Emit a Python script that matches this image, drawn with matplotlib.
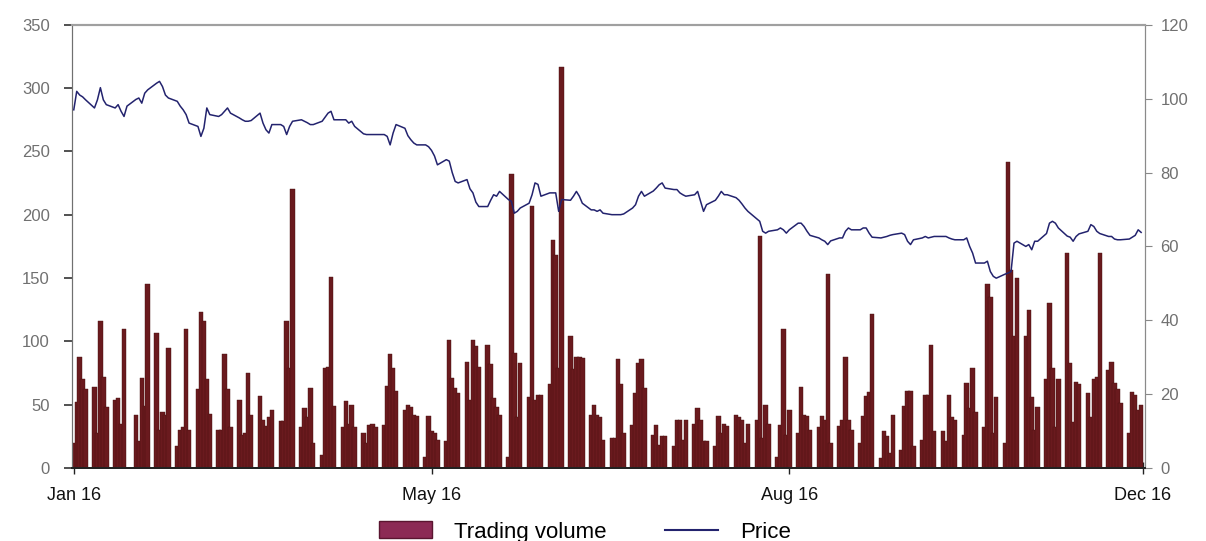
import numpy as np
import pandas as pd
import matplotlib
matplotlib.use("Agg")
import matplotlib.pyplot as plt
from matplotlib.patches import Patch
from matplotlib.lines import Line2D

plt.rcParams['font.family'] = ['Liberation Sans', 'DejaVu Sans']

# daily trading volume (business days, Jan 4 2016 onwards, one row per week)
volume = [
    20, 52, 88, 70, 62,
    64, 28, 116, 72, 48,
    54, 55, 35, 110, 0,
    42, 21, 71, 49, 145,
    107, 30, 44, 42, 95,
    17, 30, 32, 110, 30,
    62, 123, 116, 70, 43,
    30, 30, 90, 62, 32,
    54, 26, 28, 75, 42,
    57, 38, 33, 40, 46,
    37, 37, 116, 79, 220,
    32, 47, 40, 63, 20,
    10, 79, 80, 151, 49,
    32, 53, 35, 50, 32,
    28, 20, 34, 35, 32,
    34, 65, 90, 79, 61,
    46, 50, 48, 42, 41,
    9, 41, 29, 28, 22,
    21, 101, 71, 63, 59,
    84, 54, 101, 96, 80,
    97, 82, 55, 48, 42,
    9, 232, 91, 40, 83,
    56, 207, 54, 58, 58,
    66, 180, 168, 79, 317,
    104, 78, 88, 88, 87,
    42, 50, 42, 40, 22,
    24, 24, 86, 66, 28,
    34, 59, 83, 86, 63,
    26, 34, 18, 25, 25,
    17, 38, 38, 22, 38,
    35, 47, 38, 21, 21,
    17, 41, 28, 35, 33,
    42, 40, 38, 20, 35,
    38, 183, 24, 50, 35,
    9, 34, 110, 26, 46,
    28, 64, 42, 41, 30,
    32, 41, 38, 153, 20,
    33, 38, 88, 38, 30,
    20, 41, 57, 60, 122,
    8, 29, 25, 12, 42,
    14, 49, 61, 61, 17,
    22, 58, 58, 97, 29,
    29, 21, 58, 40, 38,
    26, 67, 47, 79, 44,
    32, 145, 135, 28, 56,
    20, 242, 156, 104, 150,
    104, 125, 56, 30, 48,
    70, 130, 79, 32, 70,
    170, 83, 36, 68, 66,
    59, 40, 70, 72, 170,
    77, 84, 67, 62, 51,
    28, 60, 58, 46, 50,
]

# closing price, same days
price = [
    97.0, 102.0, 101.0, 100.5, 99.7,
    97.5, 99.7, 103.0, 99.7, 98.4,
    97.5, 98.4, 96.6, 95.2, 98.0,
    99.8, 100.2, 98.8, 101.5, 102.4,
    104.2, 104.7, 103.3, 101.0, 100.2,
    99.3, 98.0, 97.0, 95.7, 93.4,
    92.5, 89.8, 92.0, 97.5, 95.7,
    95.2, 95.7, 96.6, 97.5, 96.1,
    94.8, 94.3, 93.9, 93.9, 94.1,
    96.1, 93.4, 91.6, 90.7, 93.0,
    93.0, 92.5, 90.3, 92.5, 93.9,
    94.3, 93.9, 93.5, 93.0, 93.0,
    93.9, 95.0, 96.1, 96.6, 94.3,
    94.3, 94.3, 93.4, 93.9, 92.5,
    90.5, 90.3, 90.3, 90.3, 90.3,
    90.3, 89.8, 87.5, 90.7, 93.0,
    92.0, 90.0, 88.9, 88.0, 87.5,
    87.5, 87.0, 86.0, 84.5, 82.1,
    83.5, 83.1, 80.0, 77.6, 77.2,
    78.1, 75.6, 74.5, 72.0, 70.8,
    70.8, 72.5, 74.0, 73.6, 74.9,
    72.7, 72.2, 69.0, 69.5, 70.4,
    71.7, 74.0, 77.2, 76.8, 73.6,
    74.5, 74.5, 74.5, 69.5, 72.7,
    72.5, 73.6, 74.9, 73.6, 71.7,
    69.9, 69.9, 69.5, 69.9, 69.0,
    68.6, 68.6, 68.6, 68.6, 68.8,
    70.4, 71.3, 73.6, 74.9, 73.6,
    75.0, 75.8, 76.7, 77.2, 75.8,
    75.4, 75.4, 74.5, 74.0, 73.6,
    74.0, 74.9, 72.2, 69.5, 71.3,
    72.5, 73.6, 74.9, 74.0, 74.0,
    73.2, 72.5, 71.5, 70.4, 69.5,
    67.5, 66.8, 64.1, 63.6, 64.1,
    64.5, 65.0, 64.5, 63.6, 64.5,
    66.3, 66.3, 65.4, 64.1, 63.0,
    62.3, 61.8, 61.4, 60.5, 61.5,
    62.3, 62.3, 64.1, 65.0, 64.5,
    64.5, 65.0, 65.0, 63.6, 62.5,
    62.3, 62.5, 62.7, 63.0, 63.2,
    63.6, 63.2, 61.4, 60.5, 61.8,
    62.3, 62.7, 62.3, 62.5, 62.7,
    62.7, 62.7, 62.3, 62.0, 61.8,
    61.8, 62.3, 60.0, 58.2, 55.5,
    55.5, 56.0, 53.2, 51.9, 51.4,
    52.5, 52.8, 53.2, 60.9, 61.4,
    60.0, 60.5, 59.1, 61.4, 61.4,
    63.5, 66.3, 66.8, 66.3, 65.0,
    62.8, 62.5, 61.4, 62.7, 63.4,
    64.1, 65.9, 65.4, 64.1, 63.5,
    62.7, 62.7, 62.0, 61.8, 61.8,
    62.0, 62.5, 63.0, 64.5, 63.8,
]

tick_labels = ["Jan 16", "May 16", "Aug 16", "Dec 16"]

dates = pd.bdate_range("2016-01-04", periods=len(volume))
days = np.asarray((dates - dates[0]).days)

fig = plt.figure(figsize=(12.06, 5.41), dpi=100)
ax = fig.add_axes([0.0597, 0.135, 0.8897, 0.819])
ax2 = ax.twinx()

ax.bar(days, volume, width=1.5, color="#6a1a1e", edgecolor="#48100f",
       linewidth=0.3, zorder=2)
ax2.plot(days, price, color="#23236e", lw=1.1, zorder=3)

ax.set_xlim(-0.6, 362.3)
ax.set_ylim(0, 350)
ax2.set_ylim(0, 120)
ax.set_yticks(np.arange(0, 351, 50))
ax2.set_yticks(np.arange(0, 121, 20))
ax.set_xticks([0, 121, 242, 361.6])
ax.set_xticklabels(tick_labels)

for a in (ax, ax2):
    a.spines["top"].set_color("#a0a0a0")
    a.spines["top"].set_linewidth(1.5)
    a.spines["left"].set_color("#707070")
    a.spines["right"].set_color("#8a8a8a")
    a.spines["bottom"].set_color("#222222")
    a.spines["bottom"].set_linewidth(1.4)

ax.tick_params(axis="y", direction="out", length=6, width=1.2, colors="#333333",
               labelcolor="#707070", labelsize=12, pad=10)
ax2.tick_params(axis="y", direction="out", length=5, width=0.8, colors="#888888",
                labelcolor="#707070", labelsize=12, pad=6)
ax.tick_params(axis="x", direction="inout", length=8, width=1.0, colors="#222222",
               labelcolor="#111111", labelsize=13, pad=10)

handles = [Patch(facecolor="#8c2a55", edgecolor="#5a1530"),
           Line2D([0], [0], color="#23236e", lw=1.5)]
fig.legend(handles, ["Trading volume", "Price"], loc="lower center",
           bbox_to_anchor=(0.485, -0.04), ncol=2, frameon=False,
           fontsize=16, handlelength=2.4, handleheight=0.8, handletextpad=1.0,
           columnspacing=2.6)

fig.savefig("out.png", dpi=100)
